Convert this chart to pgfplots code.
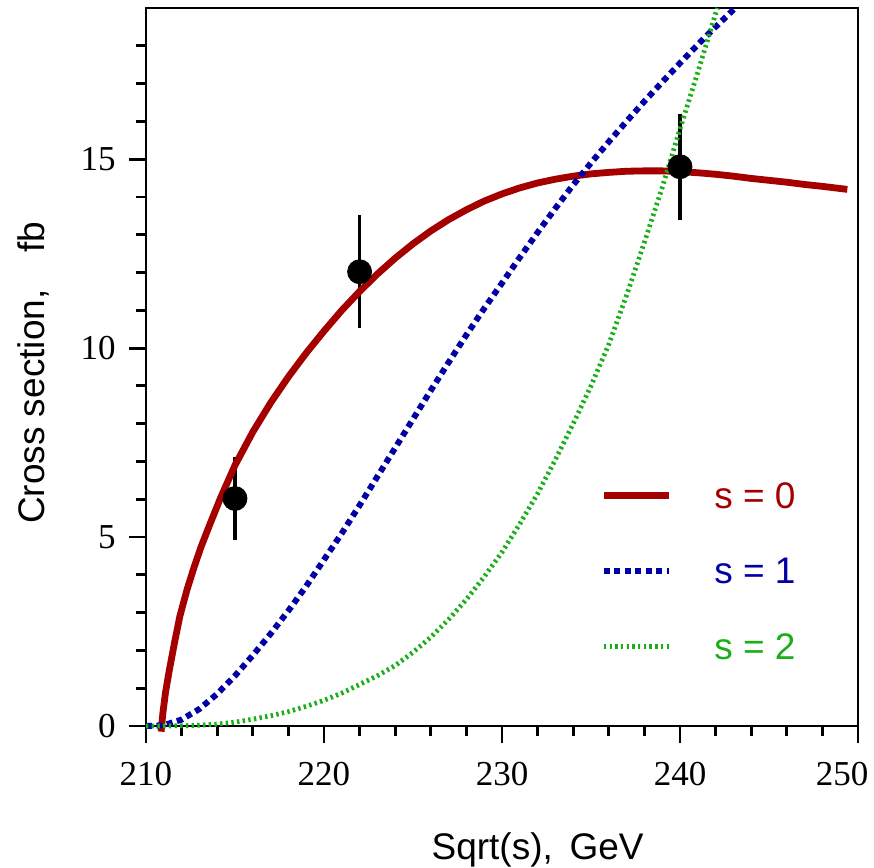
\documentclass[border=0pt]{standalone}
\usepackage{fontspec}
\setmainfont{Liberation Serif}
\newfontfamily\sansfont{Liberation Sans}
\usepackage{pgfplots}
\pgfplotsset{compat=1.18}
\definecolor{cred}{RGB}{165,0,0}
\definecolor{cblue}{RGB}{0,0,165}
\definecolor{cgreen}{RGB}{25,175,25}
\begin{document}
\begin{tikzpicture}
\useasboundingbox (-73pt,-71pt) rectangle (364pt,363pt);
\begin{axis}[
  at={(0,0)}, anchor=south west,
  scale only axis, width=356pt, height=359pt,
  xmin=210, xmax=250, ymin=0, ymax=19,
  clip=false,
  axis line style={line width=1.4pt},
  every tick/.style={black, line width=1.4pt},
  tick align=outside,
  xtick pos=bottom, ytick pos=left,
  major tick length=8.5pt, minor tick length=5pt,
  xtick={210,220,230,240},
  extra x ticks={250},
  extra x tick style={xticklabel style={xshift=-8pt}},
  minor xtick={212,214,...,248},
  ytick={0,5,10,15},
  minor ytick={1,2,3,4,6,7,8,9,11,12,13,14,16,17,18},
  tick label style={font=\fontsize{17.5}{18}\selectfont},
  /pgf/number format/assume math mode=true,
  xticklabel style={anchor=north, inner sep=0pt, yshift=-9.5pt},
  yticklabel style={anchor=east, inner sep=0pt, xshift=-6.5pt},
  xlabel={Sqrt(s),\hspace{0.45em}GeV},
  ylabel={Cross section,\hspace{1.0em}fb},
  label style={font=\sansfont\fontsize{18.5}{20}\selectfont},
  xlabel style={at={(axis description cs:0.55,-0.1866)}, anchor=base, inner sep=0pt},
  ylabel style={at={(axis description cs:-0.142,0.492)}, anchor=base, inner sep=0pt},
  legend style={at={(axis cs:235.51,6.46)}, anchor=north west, draw=none, fill=none,
    inner sep=0pt, row sep=24.8pt,
    nodes={inner sep=0pt, text height=13pt, text depth=0pt},
    font=\sansfont\fontsize{18.5}{20}\selectfont,
    /tikz/every odd column/.append style={column sep=21pt}},
  legend image code/.code={\draw[#1] (0pt,0pt) -- (32.5pt,0pt);},
  legend cell align=left,
]
\addplot[only marks, mark=*, mark size=6pt, black, forget plot,
  error bars/.cd, y dir=both, y explicit, error mark=none,
  error bar style={line width=1.6pt, black}]
  coordinates {(215,6.02) +- (0,1.1) (222,12.02) +- (0,1.5) (240,14.8) +- (0,1.4)};

\addplot[cred, line width=3.4pt, line join=round] coordinates {
(210.85,-0.15) (210.95,0.35) (211.1,0.9) (211.3,1.45) (211.6,2.2) (211.9,2.9)
(212.3,3.6) (212.7,4.2) (213.1,4.75) (213.6,5.35) (214.2,6.05) (215.0,6.9)
(216,7.78) (217,8.55) (218,9.24) (219,9.87) (220,10.45) (221,11.0) (222,11.5)
(223,11.96) (224,12.38) (225,12.76) (226,13.1) (227,13.4) (228,13.66) (229,13.89)
(230,14.08) (231,14.24) (232,14.37) (233,14.47) (234,14.55) (235,14.61) (236,14.65)
(237,14.68) (238,14.69) (239,14.69) (240,14.67) (241,14.64) (242,14.6) (243,14.55)
(244,14.49) (245,14.44) (246,14.39) (247,14.33) (248,14.28) (249.4,14.2)};
\addlegendentry{\textcolor{cred}{s = 0}}

\addplot[cblue, line width=3pt, dash pattern=on 3pt off 2.25pt] coordinates {
(210,0) (211,0.02) (212,0.17) (213,0.45) (214,0.85) (215,1.33) (216,1.87) (217,2.44)
(218,3.05) (219,3.7) (220,4.4) (221,5.1) (222,5.84) (223,6.6) (224,7.36) (225,8.12)
(226,8.88) (227,9.62) (228,10.35) (229,11.05) (230,11.72) (231,12.4) (232,13.06)
(233,13.7) (234,14.32) (235,14.9) (236,15.46) (237,16.0) (238,16.53) (239,17.04)
(240,17.54) (241,18.03) (242,18.5) (243.1,19.0)};
\addlegendentry{\textcolor{cblue}{s = 1}}

\addplot[cgreen, line width=2.4pt, dash pattern=on 1.2pt off 1.65pt] coordinates {
(210,0) (212,0.005) (213,0.02) (214,0.05) (215,0.1) (216,0.18) (217,0.27) (218,0.38)
(219,0.52) (220,0.68) (221,0.87) (222,1.1) (223,1.33) (224,1.6) (225,1.95) (226,2.35)
(227,2.82) (228,3.35) (229,3.95) (230,4.6) (231,5.35) (232,6.15) (233,7.05) (234,8.0)
(235,9.0) (236,10.1) (237,11.4) (238,12.8) (239,14.25) (240,15.8) (241,17.3)
(242,18.85) (242.1,19.0)};
\addlegendentry{\textcolor{cgreen}{s = 2}}
\end{axis}
\end{tikzpicture}
\end{document}
